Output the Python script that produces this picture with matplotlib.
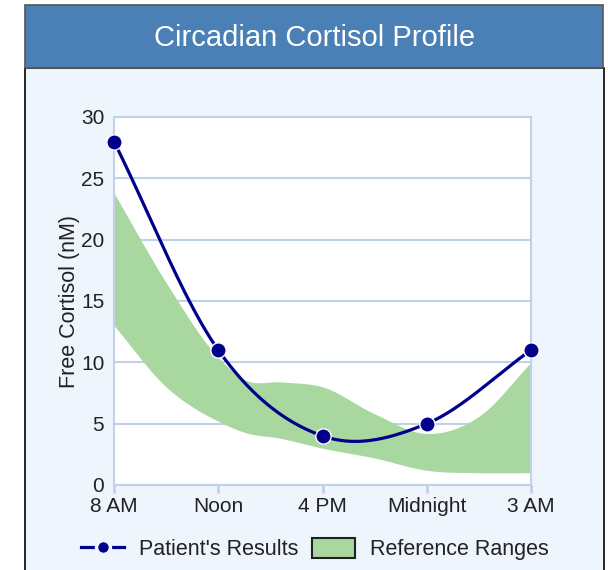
import matplotlib

matplotlib.use("Agg")
import matplotlib.pyplot as plt
import numpy as np
from matplotlib.lines import Line2D
from matplotlib.patches import Patch, Rectangle

plt.rcParams["font.family"] = ["Liberation Sans", "DejaVu Sans"]

TIMES = ["8 AM", "Noon", "4 PM", "Midnight", "3 AM"]
PATIENT = [28, 11, 4, 5, 11]

# reference range, sampled on the category axis (fractions fall between labels)
BAND_POS = [0, 0.5, 1, 1.25, 1.6, 2, 2.5, 3, 3.5, 4]
BAND_LOW = [13.0, 8.0, 5.2, 4.3, 3.8, 3.0, 2.2, 1.2, 1.0, 1.0]
BAND_HIGH = [23.8, 16.5, 10.4, 8.6, 8.4, 8.0, 5.8, 4.2, 5.6, 10.0]

W, H = 608, 570
NAVY = "#00008b"
GREEN = "#a8d8a0"
PANEL = "#eef5fd"
GRID = "#c3d1e6"


def smooth(xs, ys, n=40):
    # cubic hermite through the points, slopes from finite differences
    xs = np.asarray(xs, float)
    ys = np.asarray(ys, float)
    m = np.gradient(ys, xs)
    out_x, out_y = [], []
    for i in range(len(xs) - 1):
        h = xs[i + 1] - xs[i]
        t = np.linspace(0, 1, n, endpoint=False)
        h00 = 2 * t**3 - 3 * t**2 + 1
        h10 = t**3 - 2 * t**2 + t
        h01 = -2 * t**3 + 3 * t**2
        h11 = t**3 - t**2
        out_x.append(xs[i] + t * h)
        out_y.append(h00 * ys[i] + h10 * h * m[i] + h01 * ys[i + 1] + h11 * h * m[i + 1])
    out_x.append([xs[-1]])
    out_y.append([ys[-1]])
    return np.concatenate(out_x), np.concatenate(out_y)


def px(x0, y0, x1, y1):
    return (x0 / W, 1 - y1 / H), (x1 - x0) / W, (y1 - y0) / H


fig = plt.figure(figsize=(W / 100, H / 100), dpi=100, facecolor="white")

xy, w, h = px(25, 68, 604, 575)
fig.patches.append(Rectangle(xy, w, h, transform=fig.transFigure, zorder=-10,
                             facecolor=PANEL, edgecolor="black", linewidth=1.2))
xy, w, h = px(25, 5, 603, 68)
fig.patches.append(Rectangle(xy, w, h, transform=fig.transFigure, zorder=-9,
                             facecolor="#4a80b5", edgecolor="#555555", linewidth=1.2))
fig.text(315 / W, 1 - 38 / H, "Circadian Cortisol Profile", color="white",
         fontsize=21, ha="center", va="center")

ax = fig.add_axes([114 / W, 1 - 485 / H, 417 / W, 368 / H])
ax.set_facecolor("white")

x = np.arange(len(TIMES))
bx, lo = smooth(BAND_POS, BAND_LOW)
_, hi = smooth(BAND_POS, BAND_HIGH)
ax.fill_between(bx, lo, hi, color=GREEN, linewidth=0, zorder=2)

sx, sy = smooth(x, PATIENT)
ax.plot(sx, sy, color=NAVY, linewidth=2.3, zorder=3, clip_on=False)
ax.plot(x, PATIENT, linestyle="none", marker="o", markersize=11,
        markerfacecolor=NAVY, markeredgecolor="white", markeredgewidth=1,
        zorder=4, clip_on=False)

ax.set_xlim(0, 4)
ax.set_ylim(0, 30)
ax.set_xticks(x)
ax.set_xticklabels(TIMES)
ax.set_yticks(range(0, 31, 5))
ax.yaxis.grid(True, color=GRID, linewidth=1.5, zorder=1)
ax.set_axisbelow(True)
for s in ax.spines.values():
    s.set_color(GRID)
    s.set_linewidth(1.5)
ax.tick_params(axis="x", length=6, width=2, color=GRID, labelsize=15, pad=3,
               labelcolor="#222222")
ax.tick_params(axis="y", length=0, labelsize=15, pad=7, labelcolor="#222222")
ax.set_ylabel("Free Cortisol (nM)", fontsize=15.5, color="#222222", labelpad=1)

handles = [
    Line2D([], [], color=NAVY, linewidth=2.3, marker="o", markersize=10,
           markerfacecolor=NAVY, markeredgecolor=PANEL, markeredgewidth=2.5),
    Patch(facecolor=GREEN, edgecolor="#222222", linewidth=1.5),
]
fig.legend(handles, ["Patient's Results", "Reference Ranges"], loc="center",
           bbox_to_anchor=(315 / W, 1 - 549 / H), ncol=2, frameon=False,
           fontsize=15.5, handlelength=2.0, handleheight=1.1,
           handletextpad=0.7, columnspacing=0.6, labelcolor="#222222")

fig.savefig("out.png", dpi=100, facecolor="white")
